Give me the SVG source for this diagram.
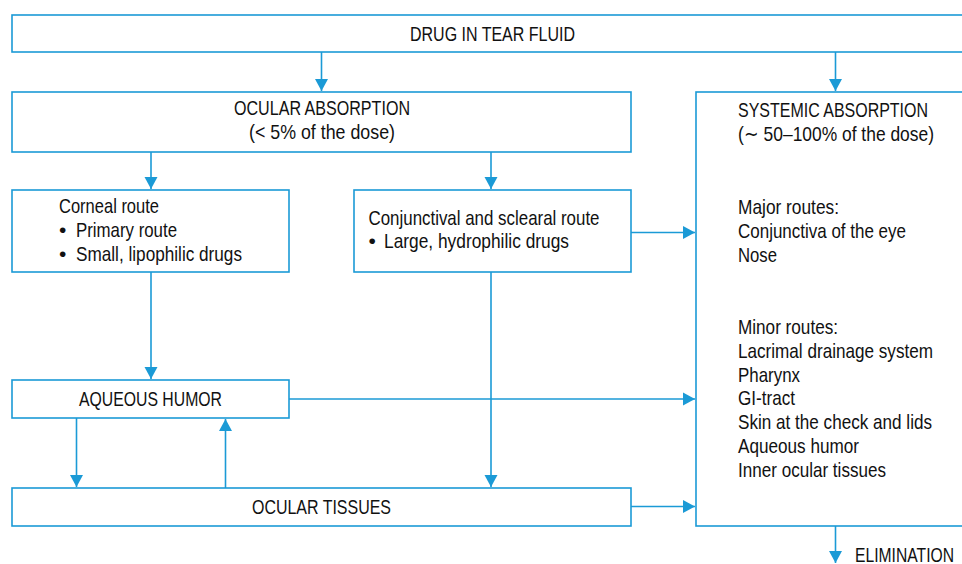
<svg xmlns="http://www.w3.org/2000/svg" width="962" height="564" viewBox="0 0 962 564">
<defs>
<style>
.box{fill:#fff;stroke:#1b9ad6;stroke-width:1.6}
.ln{fill:none;stroke:#1b9ad6;stroke-width:1.6}
text{font-family:"Liberation Sans Narrow","Arial Narrow","Liberation Sans",Arial,sans-serif;font-size:21px;fill:#111}
.c{text-anchor:middle}
</style>
<marker id="ah" markerUnits="userSpaceOnUse" markerWidth="14" markerHeight="14" viewBox="0 0 14 14" refX="13" refY="7" orient="auto">
<path d="M1,0.5 L13,7 L1,13.5 Z" fill="#1b9ad6"/>
</marker>
</defs>
<rect width="962" height="564" fill="#fff"/>
<g id="connectors">
<line class="ln" x1="321.5" y1="52" x2="321.5" y2="91" marker-end="url(#ah)"/>
<line class="ln" x1="835.5" y1="52" x2="835.5" y2="91" marker-end="url(#ah)"/>
<line class="ln" x1="151" y1="152" x2="151" y2="189" marker-end="url(#ah)"/>
<line class="ln" x1="491" y1="152" x2="491" y2="189" marker-end="url(#ah)"/>
<line class="ln" x1="631" y1="232.5" x2="695" y2="232.5" marker-end="url(#ah)"/>
<line class="ln" x1="151" y1="272" x2="151" y2="379" marker-end="url(#ah)"/>
<line class="ln" x1="289" y1="399" x2="695" y2="399" marker-end="url(#ah)"/>
<line class="ln" x1="76.5" y1="418" x2="76.5" y2="487" marker-end="url(#ah)"/>
<line class="ln" x1="225.5" y1="488" x2="225.5" y2="419" marker-end="url(#ah)"/>
<line class="ln" x1="491" y1="272" x2="491" y2="487" marker-end="url(#ah)"/>
<line class="ln" x1="631" y1="506.5" x2="695" y2="506.5" marker-end="url(#ah)"/>
<line class="ln" x1="835.5" y1="526" x2="835.5" y2="563" marker-end="url(#ah)"/>
</g>
<g id="drug-in-tear-fluid">
<rect class="box" x="12" y="15" width="960" height="37"/>
<text class="c" x="492.5" y="41" textLength="165" lengthAdjust="spacingAndGlyphs">DRUG IN TEAR FLUID</text>
</g>
<g id="ocular-absorption">
<rect class="box" x="12" y="92" width="619" height="60"/>
<text class="c" x="322" y="115" textLength="176" lengthAdjust="spacingAndGlyphs">OCULAR ABSORPTION</text>
<text class="c" x="322" y="139" textLength="146" lengthAdjust="spacingAndGlyphs">(&lt; 5% of the dose)</text>
</g>
<g id="systemic-absorption">
<rect class="box" x="696" y="92" width="276" height="434"/>
<text x="738" y="117" textLength="190" lengthAdjust="spacingAndGlyphs">SYSTEMIC ABSORPTION</text>
<text x="738" y="141" textLength="196" lengthAdjust="spacingAndGlyphs">(∼ 50–100% of the dose)</text>
<text x="738" y="214" textLength="101" lengthAdjust="spacingAndGlyphs">Major routes:</text>
<text x="738" y="238" textLength="168" lengthAdjust="spacingAndGlyphs">Conjunctiva of the eye</text>
<text x="738" y="262" textLength="39" lengthAdjust="spacingAndGlyphs">Nose</text>
<text x="738" y="334" textLength="100" lengthAdjust="spacingAndGlyphs">Minor routes:</text>
<text x="738" y="358" textLength="195" lengthAdjust="spacingAndGlyphs">Lacrimal drainage system</text>
<text x="738" y="382" textLength="62" lengthAdjust="spacingAndGlyphs">Pharynx</text>
<text x="738" y="405" textLength="57" lengthAdjust="spacingAndGlyphs">GI-tract</text>
<text x="738" y="429" textLength="194" lengthAdjust="spacingAndGlyphs">Skin at the check and lids</text>
<text x="738" y="453" textLength="121" lengthAdjust="spacingAndGlyphs">Aqueous humor</text>
<text x="738" y="477" textLength="148" lengthAdjust="spacingAndGlyphs">Inner ocular tissues</text>
</g>
<g id="corneal-route">
<rect class="box" x="12" y="190" width="277" height="82"/>
<text x="59" y="213" textLength="100" lengthAdjust="spacingAndGlyphs">Corneal route</text>
<text x="59" y="237">•</text>
<text x="76" y="237" textLength="101" lengthAdjust="spacingAndGlyphs">Primary route</text>
<text x="59" y="261">•</text>
<text x="76" y="261" textLength="166" lengthAdjust="spacingAndGlyphs">Small, lipophilic drugs</text>
</g>
<g id="conjunctival-route">
<rect class="box" x="354" y="190" width="277" height="82"/>
<text x="368.5" y="225" textLength="231" lengthAdjust="spacingAndGlyphs">Conjunctival and sclearal route</text>
<text x="368.5" y="248">•</text>
<text x="384" y="248" textLength="185" lengthAdjust="spacingAndGlyphs">Large, hydrophilic drugs</text>
</g>
<g id="aqueous-humor">
<rect class="box" x="12" y="380" width="277" height="38"/>
<text class="c" x="150.5" y="406" textLength="143" lengthAdjust="spacingAndGlyphs">AQUEOUS HUMOR</text>
</g>
<g id="ocular-tissues">
<rect class="box" x="12" y="488" width="619" height="38"/>
<text class="c" x="321.5" y="514" textLength="139" lengthAdjust="spacingAndGlyphs">OCULAR TISSUES</text>
</g>
<g id="elimination">
<text x="855" y="562" textLength="99" lengthAdjust="spacingAndGlyphs">ELIMINATION</text>
</g>
</svg>
